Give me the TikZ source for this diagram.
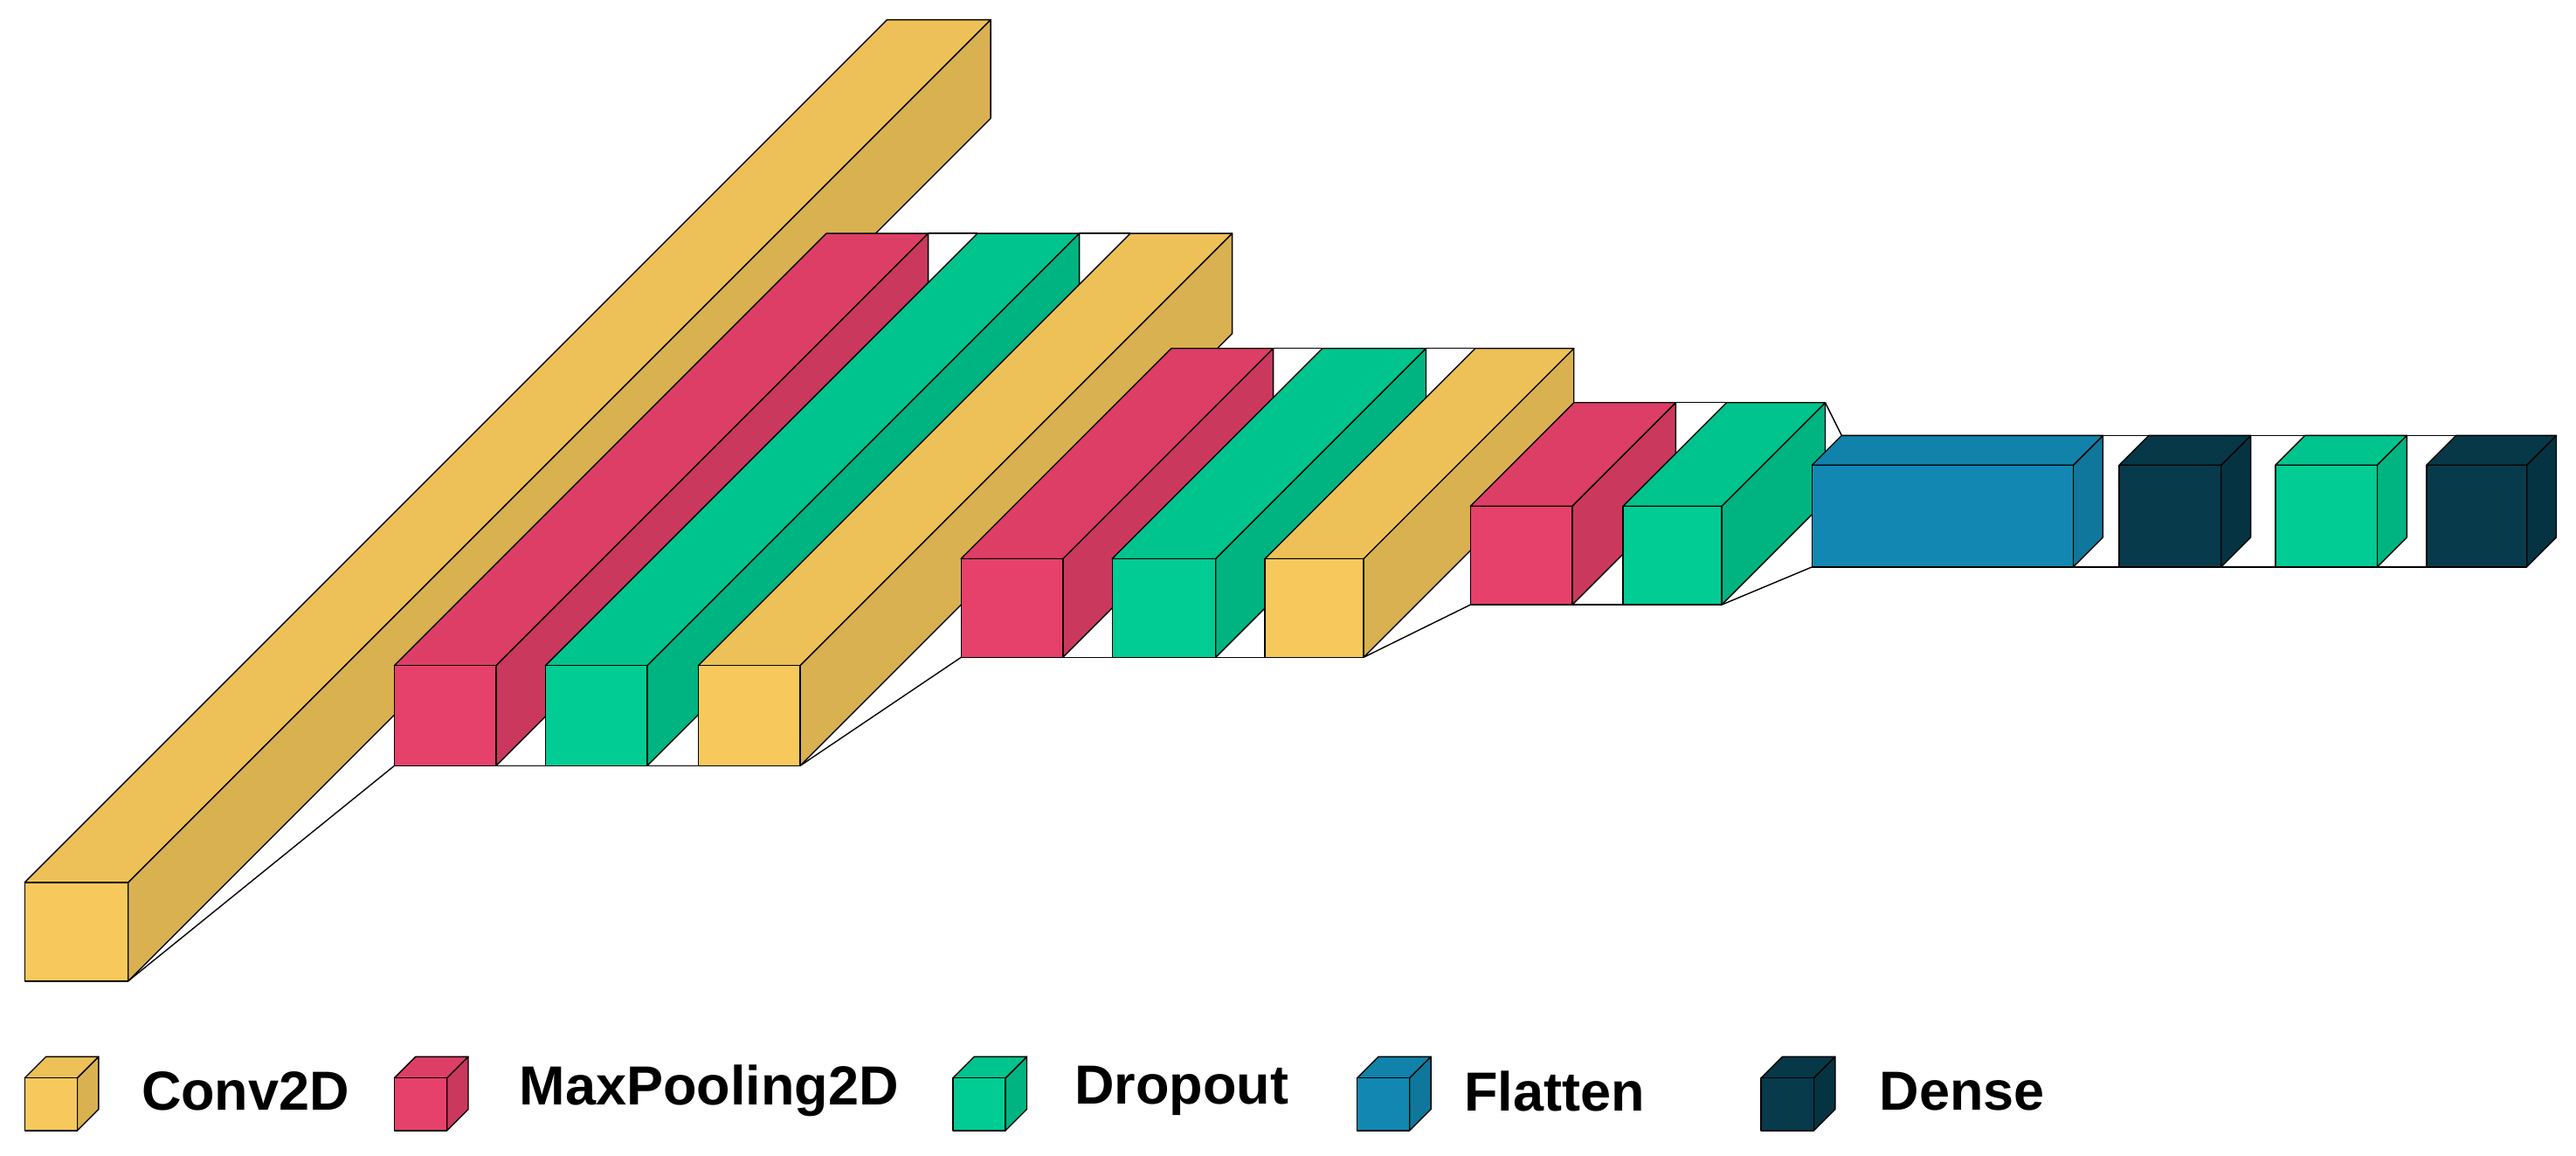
\documentclass[tikz,border=0pt]{standalone}
\usepackage{fontspec}
\setmainfont{Liberation Sans}
\definecolor{convc}{HTML}{F7C95C}
\definecolor{poolc}{HTML}{E6416A}
\definecolor{dropc}{HTML}{00CC93}
\definecolor{flatc}{HTML}{1287B1}
\definecolor{densc}{HTML}{073A4B}
% front face (x1,y1)-(x2,y2), depth d
\newcommand{\layerbox}[6]{%
  \filldraw[draw=black,fill=#1!88!black] (#4,#3)--(#4+#6,#3-#6)--(#4+#6,#5-#6)--(#4,#5)--cycle;
  \filldraw[draw=black,fill=#1!96!black] (#2,#3)--(#2+#6,#3-#6)--(#4+#6,#3-#6)--(#4,#3)--cycle;
  \filldraw[draw=black,fill=#1] (#2,#3) rectangle (#4,#5);}
\newcommand{\linkbox}[9]{%
  \draw (#1,#2)--(#4,#6);
  \draw (#1+#3,#5-#3)--(#4+#9,#7-#9);}
\tikzset{legtext/.style={anchor=west,font=\fontsize{63}{63}\selectfont\bfseries}}
\begin{document}
\begin{tikzpicture}[x=1.881pt,y=-1.881pt,line width=1.4pt,line join=round]
\useasboundingbox (0,0) rectangle (1568,703);
% connectors
\linkbox{78}{597}{525}{240}{537}{466}{405}{0}{263}
\linkbox{302}{466}{263}{332}{405}{466}{405}{0}{263}
\linkbox{394}{466}{263}{425}{405}{466}{405}{0}{263}
\linkbox{487}{466}{263}{585}{405}{400}{340}{0}{128}
\linkbox{647}{400}{128}{677}{340}{400}{340}{0}{128}
\linkbox{740}{400}{128}{770}{340}{400}{340}{0}{128}
\linkbox{830}{400}{128}{895}{340}{368}{308}{0}{63}
\linkbox{957}{368}{63}{988}{308}{368}{308}{0}{63}
\linkbox{1048}{368}{63}{1103}{308}{345}{283}{0}{18}
\linkbox{1262}{345}{18}{1290}{283}{345}{283}{0}{18}
\linkbox{1352}{345}{18}{1385}{283}{345}{283}{0}{18}
\linkbox{1447}{345}{18}{1477}{283}{345}{283}{0}{18}
% layers
\layerbox{convc}{15}{537}{78}{597}{525}
\layerbox{poolc}{240}{405}{302}{466}{263}
\layerbox{dropc}{332}{405}{394}{466}{263}
\layerbox{convc}{425}{405}{487}{466}{263}
\layerbox{poolc}{585}{340}{647}{400}{128}
\layerbox{dropc}{677}{340}{740}{400}{128}
\layerbox{convc}{770}{340}{830}{400}{128}
\layerbox{poolc}{895}{308}{957}{368}{63}
\layerbox{dropc}{988}{308}{1048}{368}{63}
\layerbox{flatc}{1103}{283}{1262}{345}{18}
\layerbox{densc}{1290}{283}{1352}{345}{18}
\layerbox{dropc}{1385}{283}{1447}{345}{18}
\layerbox{densc}{1477}{283}{1538}{345}{18}
% legend
\foreach \cc/\lx/\tx/\lab in {convc/15/88/Conv2D,poolc/240/318/MaxPooling2D,dropc/580/656/Dropout,flatc/826/893/Flatten,densc/1072/1146/Dense}{
  \layerbox{\cc}{\lx}{656}{\lx+32}{688}{13}
  \node[legtext] (leg\cc) at (\tx-4,664) {\lab};
}
\end{tikzpicture}
\end{document}
